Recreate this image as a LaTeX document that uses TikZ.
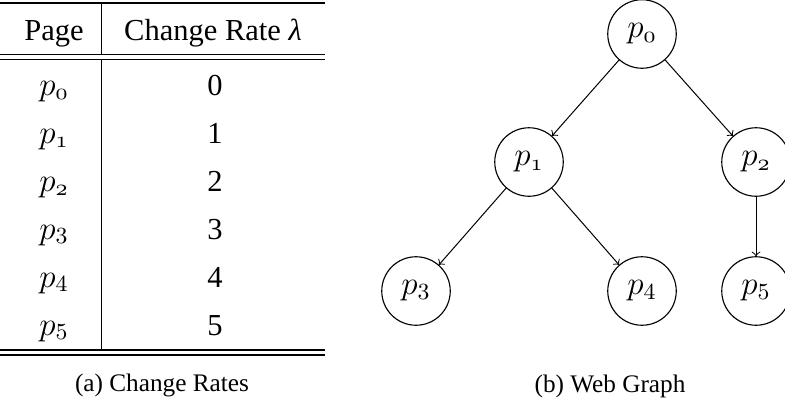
\RequirePackage{fix-cm}
\documentclass[tikz,border=0pt]{standalone}
\usepackage[no-math]{fontspec}
\setmainfont{Liberation Serif}
\newcommand{\mathsz}{\fontsize{13.2}{15}\selectfont}
\begin{document}
\begin{tikzpicture}[x=0.4pt,y=-0.4pt,
  cell/.style={anchor=base,inner sep=0pt,font=\fontsize{12.2}{14}\selectfont},
  mcell/.style={anchor=base,inner sep=0pt,font=\mathsz},
  capt/.style={anchor=base,inner sep=0pt,font=\fontsize{10.1}{12}\selectfont},
  rule/.style={line width=0.5pt},
  page/.style={draw,circle,line width=0.45pt,minimum size=27.4pt,inner sep=0pt,font=\mathsz},
  link/.style={->,line width=0.4pt}]
\useasboundingbox (0,0) rectangle (785,407);
\clip (0,0) rectangle (785,407);
% table
\coordinate (tl) at (0,3);   \coordinate (tr) at (325,3);
\coordinate (h1l) at (0,54.3); \coordinate (h1r) at (325,54.3);
\coordinate (h2l) at (0,59.3); \coordinate (h2r) at (325,59.3);
\coordinate (b1l) at (0,350); \coordinate (b1r) at (325,350);
\coordinate (b2l) at (0,355); \coordinate (b2r) at (325,355);
\coordinate (v0) at (101.5,3); \coordinate (v1) at (101.5,54.3);
\coordinate (v2) at (101.5,59.3); \coordinate (v3) at (101.5,350);
\draw[rule] (tl) -- (tr);
\draw[rule] (h1l) -- (h1r);
\draw[rule] (h2l) -- (h2r);
\draw[rule] (b1l) -- (b1r);
\draw[rule] (b2l) -- (b2r);
\draw[rule] (v0) -- (v1);
\draw[rule] (v2) -- (v3);
\node[cell] (hp) at (54,40) {Page};
\node[cell] (hr) at (213,40) {Change Rate \textit{λ}};
\node[mcell] (r0p) at (54,95) {$p_{\mathnormal{0}}$};
\node[cell] (r0v) at (215,95) {0};
\node[mcell] (r1p) at (54,143) {$p_{\mathnormal{1}}$};
\node[cell] (r1v) at (215,143) {1};
\node[mcell] (r2p) at (54,191) {$p_{\mathnormal{2}}$};
\node[cell] (r2v) at (215,191) {2};
\node[mcell] (r3p) at (54,239) {$p_3$};
\node[cell] (r3v) at (215,239) {3};
\node[mcell] (r4p) at (54,287) {$p_4$};
\node[cell] (r4v) at (215,287) {4};
\node[mcell] (r5p) at (54,335) {$p_5$};
\node[cell] (r5v) at (215,335) {5};
\node[capt] (ca) at (162,391) {(a) Change Rates};
% graph
\node[page] (p0) at (642,34) {$p_{\mathnormal{0}}$};
\node[page] (p1) at (529,162) {$p_{\mathnormal{1}}$};
\node[page] (p2) at (756,162) {$p_{\mathnormal{2}}$};
\node[page] (p3) at (416,291) {$p_3$};
\node[page] (p4) at (642,291) {$p_4$};
\node[page] (p5) at (756,291) {$p_5$};
\draw[link] (p0) -- (p1);
\draw[link] (p0) -- (p2);
\draw[link] (p1) -- (p3);
\draw[link] (p1) -- (p4);
\draw[link] (p2) -- (p5);
\node[capt] (cb) at (610,392) {(b) Web Graph};
\end{tikzpicture}
\end{document}
